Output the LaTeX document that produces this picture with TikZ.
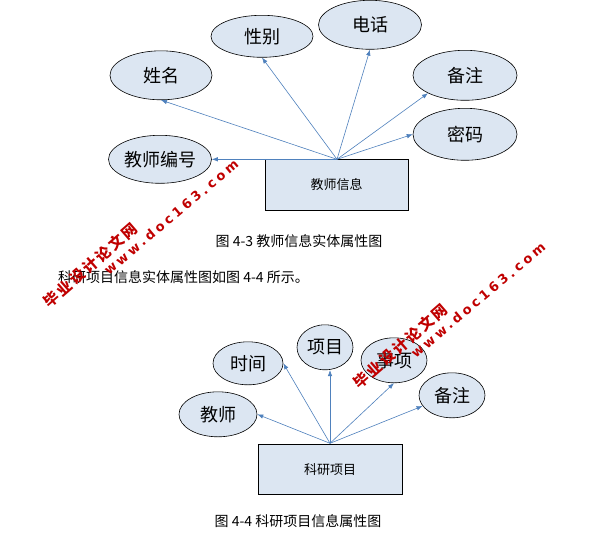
\documentclass[tikz,border=0pt]{standalone}
\usepackage{fontspec}
\setmainfont{Noto Sans CJK SC}
\newfontfamily\wmfont[LetterSpace=25]{DejaVu Sans}
\newfontfamily\wmcnfont[LetterSpace=15]{Noto Sans CJK SC}
\usetikzlibrary{shapes.geometric,arrows.meta}
\definecolor{boxfill}{HTML}{DCE6F2}
\definecolor{arrowblue}{HTML}{4F81BD}
\definecolor{wmred}{HTML}{C00000}

\begin{document}
\begin{tikzpicture}[x=1pt,y=-1pt,
  attr/.style={ellipse, draw=black, fill=boxfill, inner sep=0pt, line width=0.6pt,
    font=\fontsize{18}{18}\selectfont},
  entity/.style={rectangle, draw=black, fill=boxfill, inner sep=0pt, line width=0.6pt,
    font=\fontsize{13}{13}\selectfont},
  link/.style={draw=arrowblue, line width=0.6pt, -{Latex[length=6pt,width=4.5pt]}},
  caption/.style={inner sep=0pt, font=\fontsize{14}{14}\selectfont},
  wmcn/.style={inner sep=0pt, text=wmred, font=\fontsize{15}{15}\wmcnfont\bfseries},
  wmen/.style={inner sep=0pt, text=wmred, font=\fontsize{13}{13}\wmfont\bfseries}]
  \fill[white] (0,0) rectangle (596,552);

  % teacher entity
  \node[entity, minimum width=143pt, minimum height=51pt] (nTeacher) at (336.5,184.5) {教师信息};
  \coordinate (pTop) at (337,159);
  \node[attr, minimum width=102pt, minimum height=49pt] (nName) at (161,75) {姓名};
  \node[attr, minimum width=102pt, minimum height=42pt] (nSex) at (262,36) {性别};
  \node[attr, minimum width=103pt, minimum height=49pt] (nPhone) at (370,24.5) {电话};
  \node[attr, minimum width=104pt, minimum height=50pt] (nNote) at (465,75) {备注};
  \node[attr, minimum width=104pt, minimum height=52pt] (nPwd) at (465,134) {密码};
  \node[attr, minimum width=103pt, minimum height=48pt] (nId) at (160,159) {教师编号};
  \draw[link] (pTop) -- (nId.east);
  \draw[link] (pTop) -- (nName.south);
  \draw[link] (pTop) -- (nSex.south);
  \draw[link] (pTop) -- (nPhone.south);
  \draw[link] (pTop) -- (nNote.south west);
  \draw[link] (pTop) -- (nPwd.west);
  \node[caption] (cTeacher) at (299,241) {图 4-3 教师信息实体属性图};

  \node[caption, anchor=west] (tLine) at (58,277) {科研项目信息实体属性图如图 4-4 所示。};

  % project entity
  \node[entity, minimum width=144pt, minimum height=50pt] (nProj) at (330,469) {科研项目};
  \coordinate (pLow) at (330,443);
  \node[attr, minimum width=78pt, minimum height=45pt] (nTch) at (218,414) {教师};
  \node[attr, minimum width=70pt, minimum height=43pt] (nTime) at (248,363) {时间};
  \node[attr, minimum width=56pt, minimum height=45pt] (nItem) at (325,347) {项目};
  \node[attr, minimum width=66pt, minimum height=45pt] (nEvent) at (394,360) {事项};
  \node[attr, minimum width=66pt, minimum height=45pt] (nNote2) at (452,395) {备注};
  \draw[link] (pLow) -- (nTch.east);
  \draw[link] (pLow) -- (nTime.east);
  \draw[link] (pLow) -- (pLow |- nItem.south);
  \draw[link] (pLow) -- (nEvent.south);
  \draw[link] (pLow) -- (nNote2.200);
  \node[caption] (cProj) at (298,521) {图 4-4 科研项目信息属性图};

  % watermarks
  \node[wmcn, rotate=41] (wmCnA) at (90,265) {毕业设计论文网};
  \node[wmen, rotate=40] (wmEnA) at (171,217) {www.doc163.com};
  \node[wmcn, rotate=41] (wmCnB) at (400,346) {毕业设计论文网};
  \node[wmen, rotate=40] (wmEnB) at (478,300) {www.doc163.com};
\end{tikzpicture}
\end{document}
